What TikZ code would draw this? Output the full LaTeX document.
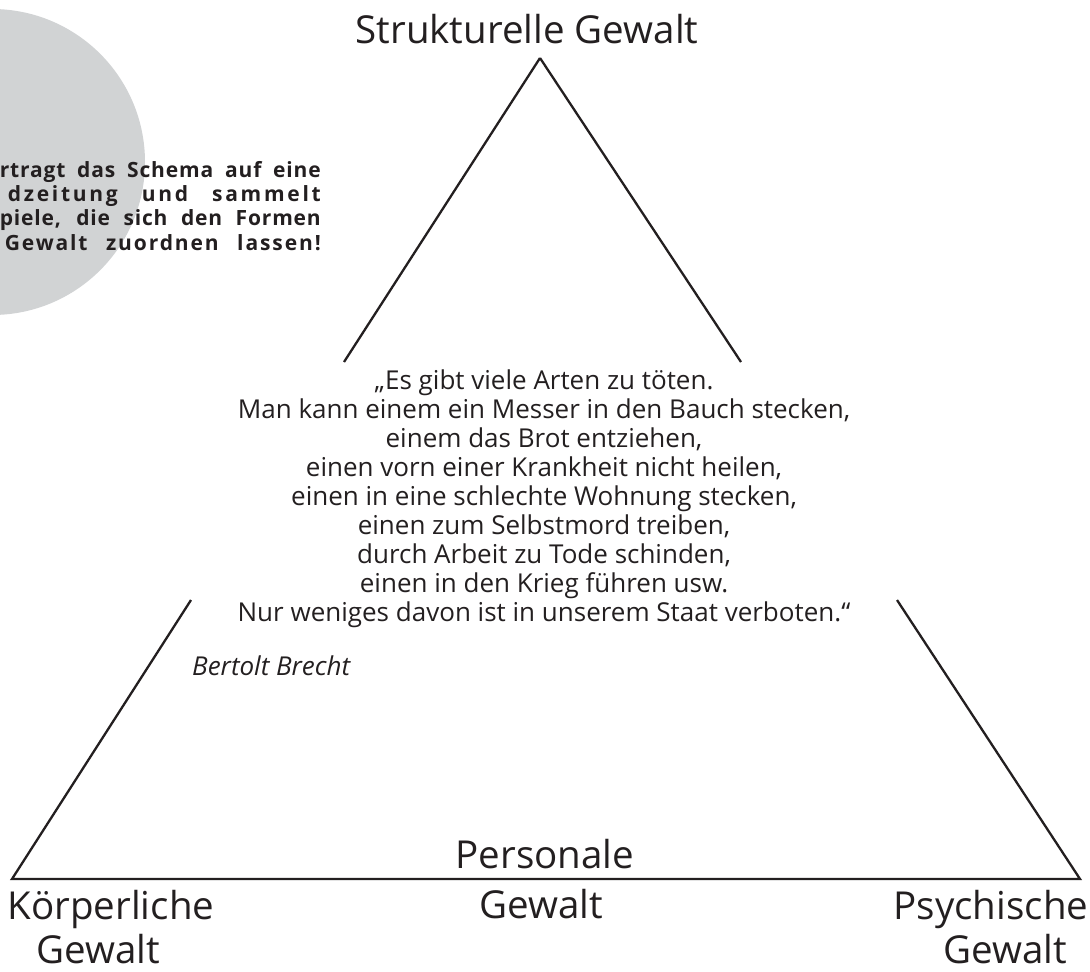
\documentclass[tikz,border=0pt]{standalone}
\usepackage{fontspec}
\setmainfont{Open Sans}
\usetikzlibrary{positioning}
\definecolor{kreisgrau}{RGB}{209,211,212}
\definecolor{schrift}{RGB}{35,31,32}

\begin{document}
\begin{tikzpicture}[x=1pt,y=-1pt,
  seite/.style={draw=schrift,line width=2.3pt},
  gross/.style={inner sep=0pt,anchor=base,text=schrift,font=\fontsize{38.5}{46}\selectfont},
  zitat/.style={inner sep=0pt,anchor=base,text=schrift,font=\fontsize{26}{29}\selectfont},
  aufgabe/.style={inner sep=0pt,anchor=base east,text=schrift,font=\bfseries\fontsize{21}{24}\selectfont\addfontfeature{LetterSpace=4}}]

\useasboundingbox (0,0) rectangle (1090,972);

% Kreis
\begin{scope}
\clip (0,0) rectangle (1090,972);
\fill[kreisgrau] (-8,162) circle (153);
\end{scope}

\node[aufgabe] (auf1) at (321,177) {\makebox[321pt][s]{rtragt das Schema auf eine}};
\node[aufgabe] (auf2) at (321,201) {\addfontfeature{LetterSpace=13}\makebox[313pt][s]{dzeitung und sammelt}};
\node[aufgabe] (auf3) at (321,225) {\makebox[321pt][s]{piele, die sich den Formen}};
\node[aufgabe] (auf4) at (321,250) {\addfontfeature{LetterSpace=9}\makebox[316pt][s]{Gewalt zuordnen lassen!}};

% Dreieck
\coordinate (spitze) at (540,58);
\coordinate (links) at (12,879);
\coordinate (rechts) at (1080,879);
\coordinate (lo) at (344,362);
\coordinate (lu) at (191,600);
\coordinate (ro) at (741,362);
\coordinate (ru) at (897,600);

\draw[seite] (spitze) -- (lo);
\draw[seite] (ro) -- (spitze);
\draw[seite] (lu) -- (links) -- (rechts) -- (ru);

\node[gross] (struktur) at (527,43) {Strukturelle Gewalt};
\node[gross] (koerper) at (111,919) {Körperliche};
\node[gross] (koerperg) at (98,963) {Gewalt};
\node[gross] (person) at (545,868) {Personale};
\node[gross] (persong) at (541,918) {Gewalt};
\node[gross] (psyche) at (991,919) {Psychische};
\node[gross] (psycheg) at (1005,963) {Gewalt};

% Zitat, Zeile fuer Zeile
\node[zitat] (z1) at (544,389) {„Es gibt viele Arten zu töten.};
\node[zitat] (z2) at (544,418) {Man kann einem ein Messer in den Bauch stecken,};
\node[zitat] (z3) at (544,447) {einem das Brot entziehen,};
\node[zitat] (z4) at (544,476) {einen vorn einer Krankheit nicht heilen,};
\node[zitat] (z5) at (544,505) {einen in eine schlechte Wohnung stecken,};
\node[zitat] (z6) at (544,534) {einen zum Selbstmord treiben,};
\node[zitat] (z7) at (544,563) {durch Arbeit zu Tode schinden,};
\node[zitat] (z8) at (544,592) {einen in den Krieg führen usw.};
\node[zitat] (z9) at (544,621) {Nur weniges davon ist in unserem Staat verboten.“};
\node[zitat,anchor=base west,font=\itshape\fontsize{26}{29}\selectfont] (brecht) at (192,675) {Bertolt Brecht};

\end{tikzpicture}
\end{document}
